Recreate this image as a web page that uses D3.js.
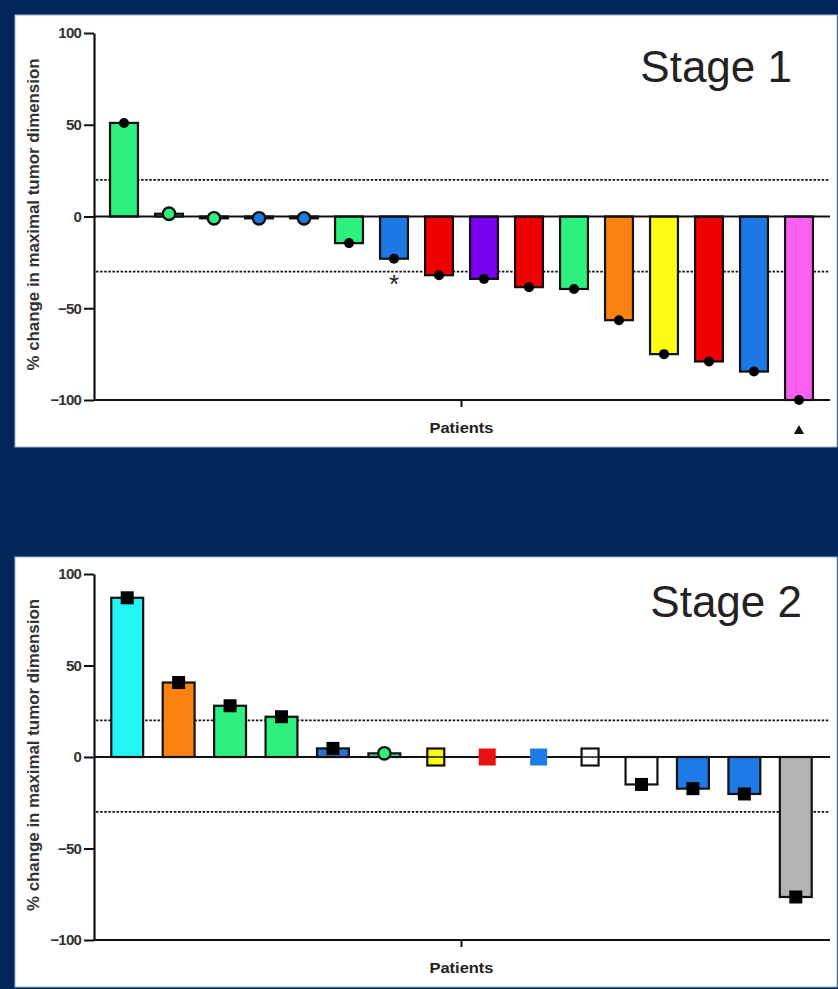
<!DOCTYPE html>
<html>
<head>
<meta charset="utf-8">
<script src="https://cdn.jsdelivr.net/npm/d3@7/dist/d3.min.js"></script>
<style>
  html, body { margin: 0; padding: 0; background: #03265a; }
  svg { display: block; }
  text { font-family: "Liberation Sans", Arial, sans-serif; }
</style>
</head>
<body>
<svg id="chart" width="838" height="989"></svg>
<script>
// ---------- DATA ----------
const yTicks = [-100, -50, 0, 50, 100];
const refLines = [20, -30];
const xLabel = "Patients";
const yLabel = "% change in maximal tumor dimension";

const stage1Title = "Stage 1";
const stage1Values = [51, 1.5, -1, -1, -1, -14.5, -23, -32, -34, -38.5, -39.5, -56.5, -75, -79, -84.5, -100];
const stage1Colors = ["#2ef07e", "#2ef07e", "#2ef07e", "#1e78e4", "#1e78e4", "#2ef07e", "#1e78e4", "#f00000",
                      "#7a00f0", "#f00000", "#2ef07e", "#fb820f", "#fcfc14", "#f00000", "#1e78e4", "#fb60f2"];
const stage1MarkerShape = ["circle","circle","circle","circle","circle","circle","circle","circle",
                           "circle","circle","circle","circle","circle","circle","circle","circle"];
const stage1MarkerFill = ["#000", "#2ef07e", "#2ef07e", "#1e78e4", "#1e78e4", "#000", "#000", "#000",
                          "#000", "#000", "#000", "#000", "#000", "#000", "#000", "#000"];
const stage1Notes = [{ index: 6, symbol: "*" }, { index: 15, symbol: "▲" }];

const stage2Title = "Stage 2";
const stage2Values = [87, 40.7, 28, 22, 4.7, 2, 0, 0, 0, 0, -15, -17.3, -20.2, -76.5];
const stage2Colors = ["#22f6f4", "#fb820f", "#2ef07e", "#2ef07e", "#2f6fd0", "#2ef07e", "#fcfc14", "#e81010",
                      "#1e7be6", "#ffffff", "#ffffff", "#1e7be6", "#1e7be6", "#b3b3b3"];
const stage2MarkerShape = ["square","square","square","square","square","circle","square","square",
                           "square","square","square","square","square","square"];
const stage2MarkerFill = ["#000", "#000", "#000", "#000", "#000", "#2ef07e", "#fcfc14", "#e81010",
                          "#1e7be6", "#ffffff", "#000", "#000", "#000", "#000"];
const stage2Notes = [];

// ---------- DRAW ----------
const svg = d3.select("#chart");
svg.append("rect").attr("x", 0).attr("y", 0).attr("width", 838).attr("height", 989).attr("fill", "#03265a");

function drawPanel(cfg) {
  const g = svg.append("g");
  g.append("rect")
    .attr("x", 15).attr("y", cfg.panelTop).attr("width", 822).attr("height", cfg.panelHeight)
    .attr("fill", "#ffffff").attr("stroke", "#9fb3cc").attr("stroke-width", 1);

  const n = cfg.values.length;
  const rows = cfg.values.map((v, i) => ({
    i, v, color: cfg.colors[i], shape: cfg.markerShape[i], mfill: cfg.markerFill[i]
  }));
  const x = d3.scaleBand().domain(d3.range(n)).range([101.5, 821.5])
    .paddingInner(0.38).paddingOuter(0.19);
  const y = d3.scaleLinear().domain([-100, 100]).range(cfg.yRange);
  const axisX = 94, axisRight = 830;

  // reference dashed lines
  g.selectAll("line.ref").data(refLines).join("line")
    .attr("class", "ref")
    .attr("x1", axisX + 2).attr("x2", axisRight)
    .attr("y1", d => y(d)).attr("y2", d => y(d))
    .attr("stroke", "#111").attr("stroke-width", 1.8)
    .attr("stroke-dasharray", "2.5,1.6");

  // bars
  g.selectAll("rect.bar").data(rows.filter(r => r.v !== 0)).join("rect")
    .attr("class", "bar")
    .attr("x", d => x(d.i))
    .attr("width", x.bandwidth())
    .attr("y", d => Math.min(y(d.v), y(0)))
    .attr("height", d => Math.abs(y(d.v) - y(0)))
    .attr("fill", d => d.color)
    .attr("stroke", "#111").attr("stroke-width", 2.2);

  // zero line
  g.append("line")
    .attr("x1", axisX).attr("x2", axisRight)
    .attr("y1", y(0)).attr("y2", y(0))
    .attr("stroke", "#111").attr("stroke-width", 2);

  // bottom axis
  g.append("line")
    .attr("x1", axisX).attr("x2", axisRight)
    .attr("y1", y(-100)).attr("y2", y(-100))
    .attr("stroke", "#111").attr("stroke-width", 2.2);
  const mid = (x.range()[0] + x.range()[1]) / 2;
  g.append("line")
    .attr("x1", mid).attr("x2", mid)
    .attr("y1", y(-100)).attr("y2", y(-100) + 7)
    .attr("stroke", "#111").attr("stroke-width", 2);
  g.append("text")
    .attr("x", mid).attr("y", y(-100) + 33)
    .attr("text-anchor", "middle")
    .attr("font-size", 15).attr("font-weight", "bold").attr("fill", "#222")
    .attr("textLength", 64).attr("lengthAdjust", "spacingAndGlyphs")
    .text(xLabel);

  // y axis
  const yAxis = d3.axisLeft(y).tickValues(yTicks).tickSize(10).tickSizeOuter(0).tickPadding(3)
    .tickFormat(d3.format("d"));
  const ya = g.append("g").attr("transform", `translate(${axisX},0)`).call(yAxis);
  ya.select(".domain").attr("stroke", "#111").attr("stroke-width", 2.2);
  ya.selectAll(".tick line").attr("stroke", "#111").attr("stroke-width", 2);
  ya.selectAll(".tick text")
    .attr("font-family", "'Liberation Sans', Arial, sans-serif")
    .attr("font-size", 15).attr("font-weight", "bold").attr("fill", "#333")
    .attr("letter-spacing", -0.8);

  // y label
  const ymid = (cfg.yRange[0] + cfg.yRange[1]) / 2 - 2;
  g.append("text")
    .attr("transform", `translate(39,${ymid}) rotate(-90)`)
    .attr("text-anchor", "middle")
    .attr("font-size", 17).attr("font-weight", 600).attr("fill", "#333")
    .attr("textLength", 312).attr("lengthAdjust", "spacingAndGlyphs")
    .text(yLabel);

  // markers
  const cx = i => x(i) + x.bandwidth() / 2;
  rows.forEach(r => {
    const black = r.mfill === "#000";
    if (r.shape === "circle") {
      g.append("circle")
        .attr("cx", cx(r.i)).attr("cy", y(r.v))
        .attr("r", black ? 5 : 6.2)
        .attr("fill", r.mfill)
        .attr("stroke", "#111").attr("stroke-width", black ? 0 : 2.4);
    } else {
      const s = black ? 13 : 17;
      const outlined = !black && (r.mfill === "#fcfc14" || r.mfill === "#ffffff");
      g.append("rect")
        .attr("x", cx(r.i) - s / 2).attr("y", y(r.v) - s / 2)
        .attr("width", s).attr("height", s)
        .attr("fill", r.mfill)
        .attr("stroke", outlined ? "#111" : "none").attr("stroke-width", 2.2);
      if (outlined) {
        g.append("line")
          .attr("x1", cx(r.i) - s / 2).attr("x2", cx(r.i) + s / 2)
          .attr("y1", y(r.v)).attr("y2", y(r.v))
          .attr("stroke", "#111").attr("stroke-width", 1.5);
      }
    }
  });

  // notes
  cfg.notes.forEach(nt => {
    if (nt.symbol === "*") {
      g.append("text")
        .attr("x", cx(nt.index)).attr("y", y(cfg.values[nt.index]) + 34)
        .attr("text-anchor", "middle")
        .attr("font-size", 26).attr("fill", "#222")
        .text(nt.symbol);
    } else {
      g.append("path")
        .attr("d", d3.symbol(d3.symbolTriangle, 45)())
        .attr("transform", `translate(${cx(nt.index)},${y(-100) + 31})`)
        .attr("fill", "#111");
    }
  });

  // title
  g.append("text")
    .attr("x", cfg.titleRight).attr("y", cfg.titleBaseline)
    .attr("text-anchor", "end")
    .attr("font-size", 44).attr("fill", "#222")
    .text(cfg.title);
}

drawPanel({
  values: stage1Values, colors: stage1Colors, markerShape: stage1MarkerShape, markerFill: stage1MarkerFill,
  notes: stage1Notes, title: stage1Title,
  panelTop: 15, panelHeight: 432, yRange: [400, 33], titleRight: 792, titleBaseline: 82
});
drawPanel({
  values: stage2Values, colors: stage2Colors, markerShape: stage2MarkerShape, markerFill: stage2MarkerFill,
  notes: stage2Notes, title: stage2Title,
  panelTop: 557, panelHeight: 430, yRange: [940, 574], titleRight: 802, titleBaseline: 617
});
</script>
</body>
</html>
